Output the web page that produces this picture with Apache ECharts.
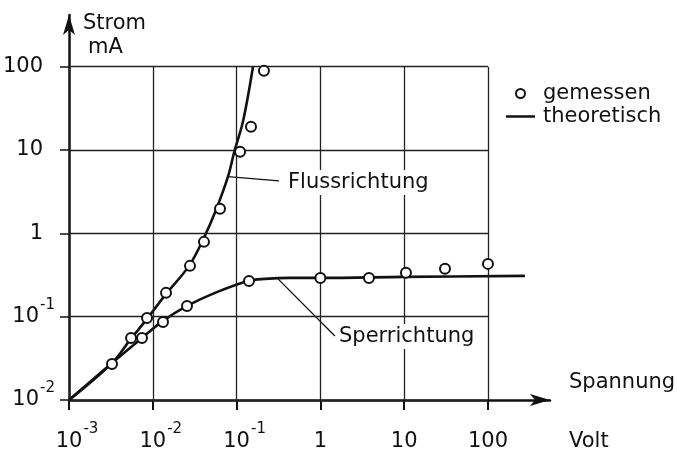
<!DOCTYPE html>
<html>
<head>
<meta charset="utf-8">
<script src="https://cdn.jsdelivr.net/npm/echarts@6/dist/echarts.min.js"></script>
<style>
html, body { margin: 0; padding: 0; background: #fff; }
#chart { width: 677px; height: 459px; }
</style>
</head>
<body>
<div id="chart"></div>
<script>
// Werte (Spannung in V, Strom in mA)
var xTicks = [0.001, 0.01, 0.1, 1, 10, 100];
var yTicks = [0.01, 0.1, 1, 10, 100];

var flussTheorie = [[0.001, 0.01], [0.00326, 0.0278], [0.00535, 0.0526], [0.00853, 0.094], [0.0144, 0.1875],
    [0.0271, 0.407], [0.0397, 0.835], [0.0568, 1.91], [0.0789, 4.78], [0.0945, 9.8],
    [0.119, 21.8], [0.157, 100]];
var sperrTheorie = [[0.001, 0.01], [0.00326, 0.0278], [0.00743, 0.0556], [0.01324, 0.0889], [0.0256, 0.1346],
    [0.0552, 0.193], [0.1368, 0.268], [0.218, 0.284], [0.434, 0.292], [1, 0.292], [10, 0.3], [276, 0.309]];

var flussGemessen = [[0.00326, 0.027], [0.0055, 0.0556], [0.00853, 0.0966], [0.01438, 0.193], [0.0278, 0.407],
    [0.0408, 0.79], [0.0634, 1.97], [0.11, 9.5], [0.1486, 19], [0.212, 89.5]];
var sperrGemessen = [[0.00743, 0.0556], [0.01324, 0.0865], [0.0256, 0.1346], [0.1406, 0.268], [1, 0.292],
    [3.8, 0.292], [10.5, 0.336], [30.7, 0.375], [100, 0.43]];

// Hinweislinien zu den Beschriftungen
var flussHinweis = [[0.0789, 4.78], [0.321, 4.27]];
var sperrHinweis = [[0.312, 0.284], [1.49, 0.0587]];

var FONT = 'DejaVu Sans';
var INK = '#111';

var chart = echarts.init(document.getElementById('chart'));

var gridLines = [];
yTicks.forEach(function (v) {
    gridLines.push([{ coord: [xTicks[0], v] }, { coord: [xTicks[xTicks.length - 1], v] }]);
});
xTicks.forEach(function (v) {
    gridLines.push([{ coord: [v, yTicks[0]] }, { coord: [v, yTicks[yTicks.length - 1]] }]);
});

function xLabel(v) {
    var e = Math.round(Math.log10(v));
    if (e < 0) return '{p|}{b|10}{s|-' + (-e) + '}';
    return '{b|' + Math.pow(10, e) + '}{z|}';
}
function yLabel(v) {
    var e = Math.round(Math.log10(v));
    if (e < 0) return '{b|10}{s|-' + (-e) + '}';
    return '{b|' + Math.pow(10, e) + '}{q|}';
}
// hochgestellte Exponenten: gleiche Zeilenhoehe fuer alle Beschriftungen
var labelRich = {
    b: { fontFamily: FONT, fontSize: 21, color: INK },
    s: { fontFamily: FONT, fontSize: 15, color: INK, padding: [0, 0, 24, 1] },
    z: { fontFamily: FONT, fontSize: 15, padding: [0, 0, 24, 0] },
    q: { fontFamily: FONT, fontSize: 15, width: 12, padding: [0, 0, 24, 0] },
    p: { width: 16 }
};

var option = {
    animation: false,
    backgroundColor: '#fff',
    grid: { left: 69, right: 127, top: 15, bottom: 59, outerBoundsMode: 'none' },
    legend: {
        data: [
            { name: 'gemessen' },
            { name: 'theoretisch', icon: 'path://M0 0 H30 V2.6 H0 Z' }
        ],
        orient: 'vertical',
        left: 501,
        top: 78,
        itemWidth: 29,
        itemHeight: 9,
        itemGap: 2,
        selectedMode: false,
        textStyle: { fontFamily: FONT, fontSize: 21, color: INK, padding: [0, 0, 0, 3] }
    },
    xAxis: {
        type: 'log',
        logBase: 10,
        min: 0.001,
        max: 550,
        axisLine: { lineStyle: { color: INK, width: 2.5 }, symbol: ['none', 'arrow'], symbolSize: [9, 20] },
        axisTick: { show: true, customValues: xTicks, length: 10, lineStyle: { color: INK, width: 2 } },
        axisLabel: { customValues: xTicks, margin: 22, formatter: xLabel, rich: labelRich },
        splitLine: { show: false }
    },
    yAxis: {
        type: 'log',
        logBase: 10,
        min: 0.01,
        max: 417,
        axisLine: { lineStyle: { color: INK, width: 2.5 }, symbol: ['none', 'arrow'], symbolSize: [9, 20] },
        axisTick: { show: true, customValues: yTicks, length: 9, lineStyle: { color: INK, width: 1.5 } },
        axisLabel: { customValues: yTicks, margin: 14, formatter: yLabel, rich: labelRich },
        splitLine: { show: false }
    },
    series: [
        {
            name: 'raster',
            type: 'line',
            data: [],
            silent: true,
            markLine: {
                silent: true,
                symbol: 'none',
                label: { show: false },
                lineStyle: { color: '#222', width: 1.3, type: 'solid' },
                data: gridLines
            }
        },
        {
            name: 'theoretisch',
            type: 'line',
            data: flussTheorie,
            smooth: 0.35,
            symbol: 'none',
            lineStyle: { color: INK, width: 2.6 },
            itemStyle: { color: INK },
            z: 3
        },
        {
            name: 'theoretisch',
            type: 'line',
            data: sperrTheorie,
            smooth: 0.35,
            symbol: 'none',
            lineStyle: { color: INK, width: 2.6 },
            itemStyle: { color: INK },
            z: 3
        },
        {
            name: 'hinweis',
            type: 'line',
            data: flussHinweis,
            symbol: 'none',
            lineStyle: { color: INK, width: 1.3 },
            silent: true,
            z: 2
        },
        {
            name: 'hinweis',
            type: 'line',
            data: sperrHinweis,
            symbol: 'none',
            lineStyle: { color: INK, width: 1.3 },
            silent: true,
            z: 2
        },
        {
            name: 'gemessen',
            type: 'scatter',
            data: flussGemessen,
            symbol: 'circle',
            symbolSize: 10,
            itemStyle: { color: '#fff', borderColor: INK, borderWidth: 2, opacity: 1 },
            z: 5
        },
        {
            name: 'gemessen',
            type: 'scatter',
            data: sperrGemessen,
            symbol: 'circle',
            symbolSize: 10,
            itemStyle: { color: '#fff', borderColor: INK, borderWidth: 2, opacity: 1 },
            z: 5
        }
    ],
    graphic: [
        { type: 'text', left: 83, top: 13, z: 10, style: { text: 'Strom', font: '21px ' + FONT, fill: INK } },
        { type: 'text', left: 88, top: 37, z: 10, style: { text: 'mA', font: '21px ' + FONT, fill: INK } },
        { type: 'text', left: 569, top: 372, z: 10, style: { text: 'Spannung', font: '21px ' + FONT, fill: INK } },
        { type: 'text', left: 569, top: 431, z: 10, style: { text: 'Volt', font: '21px ' + FONT, fill: INK } },
        { type: 'text', left: 285, top: 170, z: 10, style: { text: 'Flussrichtung', font: '21px ' + FONT, fill: INK, backgroundColor: '#fff', padding: [2, 3] } },
        { type: 'text', left: 336, top: 324, z: 10, style: { text: 'Sperrichtung', font: '21px ' + FONT, fill: INK, backgroundColor: '#fff', padding: [2, 3] } }
    ]
};

chart.setOption(option);
</script>
</body>
</html>
